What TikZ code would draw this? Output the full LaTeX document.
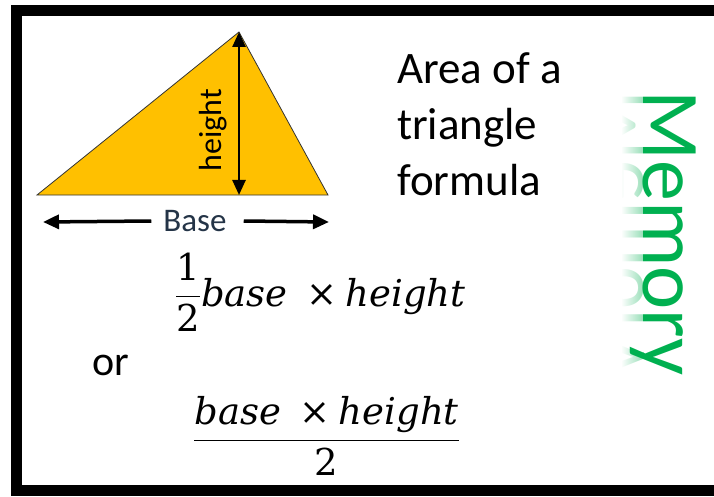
\documentclass[tikz,border=0pt]{standalone}
\usepackage{fix-cm}
\usepackage{amsmath}
\usepackage{fontspec}
\setmainfont{Carlito}
\newfontfamily\formfont{DejaVu Serif}
\usetikzlibrary{arrows.meta,positioning,fadings}

\definecolor{triyellow}{HTML}{FFC000}
\definecolor{memgreen}{HTML}{00B050}
\definecolor{basetext}{HTML}{243447}

\tikzfading[name=reflfade, left color=transparent!0, right color=transparent!100]

\newcommand{\fvar}[1]{\text{\itshape #1}}
\newcommand{\by}{\mathbin{\text{×}}}

\begin{document}
\begin{tikzpicture}[x=1pt, y=-1pt,
    words/.style={inner sep=0pt, font=\fontsize{45}{56}\selectfont},
    formula/.style={inner sep=0pt, font=\formfont\fontsize{37}{44}\selectfont},
    memtext/.style={inner sep=0pt, font=\fontsize{82}{90}\selectfont},
    dimarrow/.style={{Triangle[width=13pt,length=15pt]}-{Triangle[width=13pt,length=15pt]}, line width=2.5pt},
    basearrow/.style={-{Triangle[width=14pt,length=16pt]}, line width=3.5pt}]

\useasboundingbox (0,0) rectangle (714,497);

% Frame (no right edge)
\draw[line width=11pt, miter limit=4] (714,10.5) -- (16.5,10.5) -- (16.5,490) -- (714,490);

% ---- Triangle ----
\coordinate (left)  at (37,195);
\coordinate (right) at (328,195);
\coordinate (apex)  at (239,32);
\coordinate (foot)  at (239,195);
\fill[triyellow] (left) -- (right) -- (apex) -- cycle;
\draw[black!80, line width=0.8pt] (left) -- (right) -- (apex) -- cycle;

% height
\draw[dimarrow] (apex) -- (foot);
\node[inner sep=0pt, rotate=90, font=\fontsize{32}{36}\selectfont] (htxt) at (213,130) {height};

% base
\node[inner sep=0pt, text=basetext, font=\fontsize{33}{36}\selectfont] (btxt) at (195,221) {Base};
\coordinate (bl) at (43,222);
\coordinate (br) at (329,222);
\draw[basearrow] ([xshift=-12pt]btxt.west) -- (bl);
\draw[basearrow] ([xshift=17pt]btxt.east) -- (br);

% ---- Title ----
\node[words, anchor=north west, align=left] (title) at (397,52) {Area of a\\triangle\\formula};

% ---- Formulas ----
\node[formula, anchor=base west] (half) at (175,306)
    {$\dfrac{\text{1}}{\text{2}}\fvar{base}\;\by\fvar{height}$};
\node[words, font=\fontsize{42}{50}\selectfont] (ortxt) at (111,365) {or};
\node[formula, anchor=base west] (over) at (193,450)
    {$\dfrac{\fvar{base}\;\by\fvar{height}}{\text{2}}$};

% ---- Memory (with reflection) ----
\begin{scope}
  \clip (622,80) rectangle (643,380);
  \node[memtext, text=memgreen!40, anchor=base west, rotate=-90, yscale=-1] (memrefl) at (643,90) {Memory};
  \fill[white, path fading=reflfade] (621,80) rectangle (643,380);
\end{scope}
\node[memtext, text=memgreen, anchor=base west, rotate=-90] (mem) at (643,90) {Memory};

\end{tikzpicture}
\end{document}
